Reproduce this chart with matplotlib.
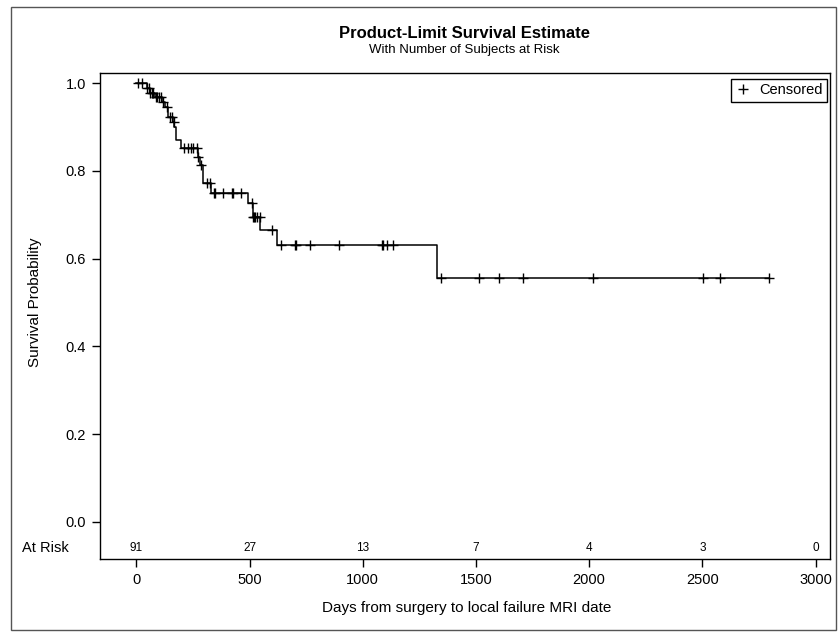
import numpy as np
import matplotlib
matplotlib.use("Agg")
import matplotlib.pyplot as plt
from matplotlib.lines import Line2D
from matplotlib.patches import Rectangle

plt.rcParams['font.family'] = ['Liberation Sans', 'DejaVu Sans']

# step curve: day of each drop and survival after it
event_days = [0, 45, 60, 80, 115, 128, 138, 160, 168, 176, 197, 270, 281, 292,
              330, 492, 515, 548, 620, 1330]
survival = [1.0, 0.989, 0.978, 0.967, 0.956, 0.945, 0.922, 0.911, 0.900, 0.870,
            0.852, 0.831, 0.813, 0.772, 0.749, 0.727, 0.695, 0.665, 0.631, 0.556]
last_day = 2795

# censored observations (days)
censor_days = [7, 24, 48, 55, 62, 68, 75, 85, 92, 100, 108, 118, 135, 148, 157, 165,
               210, 227, 241, 250, 267, 272, 285, 312, 325, 342, 346, 382, 422, 427,
               462, 510, 515, 520, 525, 532, 545, 599, 639, 700, 703, 767, 895, 1085,
               1089, 1107, 1134, 1346, 1514, 1602, 1708, 2017, 2503, 2579, 2795]

# number at risk table
risk_days = [0, 500, 1000, 1500, 2000, 2500, 3000]
at_risk = [91, 27, 13, 7, 4, 3, 0]

W, H = 840, 635
fig = plt.figure(figsize=(W / 100, H / 100), dpi=100)
ax = fig.add_axes([100 / W, 1 - 559 / H, 730 / W, (559 - 73) / H])

# survival curve
t = event_days + [last_day]
s = survival + [survival[-1]]
ax.step(t, s, where='post', color='black', lw=1.1)

# censor marks sit on the curve
idx = np.searchsorted(event_days, censor_days, side='right') - 1
cens_y = np.array(survival)[idx]
ax.plot(censor_days, cens_y, ls='none', marker='+', color='black', ms=6.5, mew=1.0)

ax.set_xlim(-161, 3064)
ax.set_ylim(-0.0843, 1.0228)
ax.set_xticks(risk_days)
ax.set_yticks([0.0, 0.2, 0.4, 0.6, 0.8, 1.0])
ax.set_yticklabels(["%.1f" % v for v in [0.0, 0.2, 0.4, 0.6, 0.8, 1.0]])
ax.tick_params(direction='out', length=6, width=1, labelsize=10.5, pad=4)
for sp in ax.spines.values():
    sp.set_linewidth(1)

# at risk row
for d, n in zip(risk_days, at_risk):
    ax.text(d, -0.059, str(n), ha='center', va='center', fontsize=8.5)
ax.text(-31 / 730, -0.059, "At Risk", transform=ax.get_yaxis_transform(),
        ha='right', va='center', fontsize=10.5)

# legend
h = Line2D([], [], ls='none', marker='+', color='black', ms=7, mew=1.0)
leg = ax.legend([h], ['Censored'], loc='upper right',
                bbox_to_anchor=((827 - 100) / 730, 1 - 6 / 486), borderaxespad=0,
                fancybox=False, edgecolor='black', framealpha=1, fontsize=10.5,
                handlelength=1, handletextpad=0.6, borderpad=0.3)
leg.get_frame().set_linewidth(1)

fig.text(464 / W, 1 - 33 / H, "Product-Limit Survival Estimate", ha='center', va='center',
         fontsize=12, fontweight='bold')
fig.text(464 / W, 1 - 50 / H, "With Number of Subjects at Risk", ha='center', va='center',
         fontsize=9.5)
fig.text(467 / W, 1 - 608 / H, "Days from surgery to local failure MRI date", ha='center',
         va='center', fontsize=11)
fig.text(35 / W, 1 - 302 / H, "Survival Probability", ha='center', va='center',
         rotation=90, fontsize=11)

# outer border
fig.add_artist(Rectangle((11 / W, 5 / H), 825 / W, 623 / H, transform=fig.transFigure,
                         fill=False, edgecolor='#555555', lw=1))

plt.savefig("out.png", dpi=100)
plt.close()
